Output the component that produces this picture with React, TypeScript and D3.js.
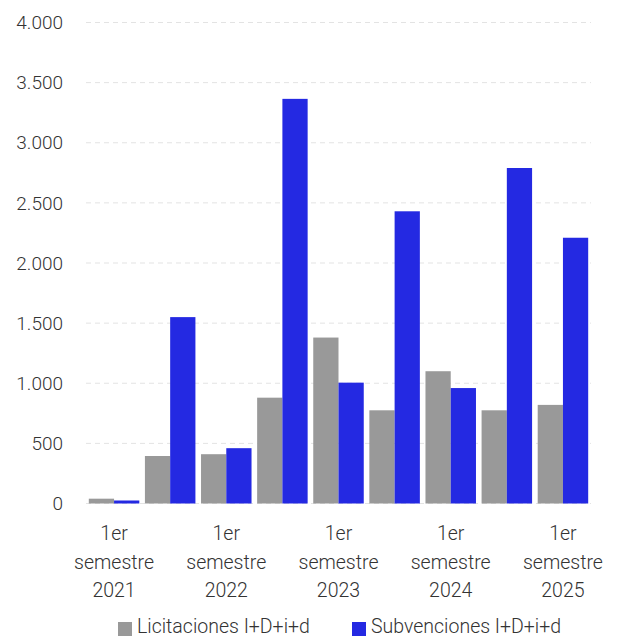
import React from 'react'
import * as d3 from 'd3'

const periods = ['2021-1', '2021-2', '2022-1', '2022-2', '2023-1', '2023-2', '2024-1', '2024-2', '2025-1']
const periodLabels = ['1er semestre 2021', '', '1er semestre 2022', '', '1er semestre 2023', '', '1er semestre 2024', '', '1er semestre 2025']
const licitaciones = [40, 395, 410, 880, 1380, 775, 1100, 775, 820]
const subvenciones = [25, 1550, 460, 3365, 1005, 2430, 960, 2790, 2210]
const seriesNames = ['Licitaciones I+D+i+d', 'Subvenciones I+D+i+d']
const seriesColors = ['#999999', '#2429e2']
const yTicks = [0, 500, 1000, 1500, 2000, 2500, 3000, 3500, 4000]

const W = 617
const H = 638
const left = 86
const right = 591
const top = 22.5
const bottom = 503.5

const App: React.FC = () => {
  const x = d3.scaleBand<string>().domain(periods).range([left, right]).paddingInner(0.1).paddingOuter(0.05)
  const sub = d3.scaleBand<number>().domain([0, 1]).range([0, x.bandwidth()])
  const y = d3.scaleLinear().domain([0, 4000]).range([bottom, top])
  const fmt = (v: number) => d3.format(',')(v).replace(/,/g, '.')
  const series = [licitaciones, subvenciones]
  const font = 'Roboto, sans-serif'

  return (
    <svg width={W} height={H} style={{ position: 'absolute', left: 0, top: 0, background: '#fff' }}>
      <g fontFamily={font} fontWeight={300} fill="#333">
        {yTicks.map(t => (
          <g key={t}>
            <line x1={left} x2={right} y1={y(t)} y2={y(t)} stroke="#e3e3e3" strokeWidth={1} strokeDasharray="5,4" />
            <text x={63} y={y(t)} dy="0.35em" textAnchor="end" fontSize={19}>{fmt(t)}</text>
          </g>
        ))}
        {series.map((vals, si) =>
          vals.map((v, i) => (
            <rect
              key={si + '-' + i}
              x={(x(periods[i]) ?? 0) + (sub(si) ?? 0)}
              y={y(v)}
              width={sub.bandwidth()}
              height={bottom - y(v)}
              fill={seriesColors[si]}
            />
          ))
        )}
        {periodLabels.map((lab, i) => {
          if (!lab) return null
          const cx = (x(periods[i]) ?? 0) + x.bandwidth() / 2
          const parts = ['1er', 'semestre', lab.split(' ')[2]]
          return (
            <text key={i} x={cx} textAnchor="middle" fontSize={19.5}>
              {parts.map((p, j) => (
                <tspan key={j} x={cx} y={540 + j * 28.5}>{p}</tspan>
              ))}
            </text>
          )
        })}
        {seriesNames.map((name, si) => {
          const lx = si === 0 ? 118 : 352
          return (
            <g key={name}>
              <rect x={lx} y={622} width={14} height={14} fill={seriesColors[si]} />
              <text x={lx + 19} y={633} fontSize={19.5}>{name}</text>
            </g>
          )
        })}
      </g>
    </svg>
  )
}

export default App
